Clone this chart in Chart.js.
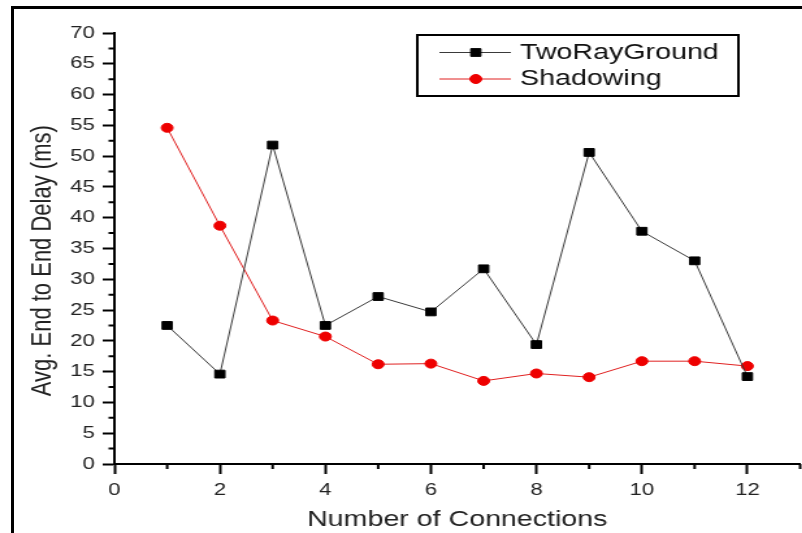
<!DOCTYPE html>
<html>
<head>
<meta charset="utf-8">
<script src="https://cdn.jsdelivr.net/npm/chart.js@4.4.1/dist/chart.umd.min.js"></script>
<style>
  body { margin: 0; background: #fff; }
  #wrap { position: relative; width: 802px; height: 533px; overflow: hidden; }
  /* the plot is drawn narrow and widened, like the exported figure */
  #stretch { position: absolute; left: 0; top: 0; width: 617px; height: 533px; transform: scaleX(1.3); transform-origin: 0 0; }
  #frame { position: absolute; left: 11px; top: 6px; right: -20px; bottom: -20px; border-left: 3px solid #000; border-top: 3px solid #000; }
</style>
</head>
<body>
<div id="wrap">
  <div id="stretch"><canvas id="chart" width="617" height="533"></canvas></div>
  <div id="frame"></div>
</div>
<script>
const connections = [1, 2, 3, 4, 5, 6, 7, 8, 9, 10, 11, 12];
const twoRayGround = [22.5, 14.6, 51.8, 22.5, 27.2, 24.7, 31.7, 19.4, 50.6, 37.8, 33.0, 14.2];
const shadowing = [54.6, 38.7, 23.3, 20.7, 16.2, 16.3, 13.5, 14.7, 14.1, 16.7, 16.7, 15.9];

const xMinorTicks = [1, 3, 5, 7, 9, 11, 13];
const yMinorTicks = [2.5, 7.5, 12.5, 17.5, 22.5, 27.5, 32.5, 37.5, 42.5, 47.5, 52.5, 57.5, 62.5, 67.5];

const toPoints = (ys) => connections.map((c, i) => ({ x: c, y: ys[i] }));

Chart.defaults.font.family = "'Liberation Sans', Arial, sans-serif";
Chart.defaults.color = '#222';

// short unlabelled ticks between the labelled ones
const minorTicks = {
  id: 'minorTicks',
  afterDraw(chart) {
    const { ctx, scales: { x, y } } = chart;
    ctx.save();
    ctx.strokeStyle = '#000';
    ctx.lineWidth = 2;
    ctx.beginPath();
    xMinorTicks.forEach((v) => {
      const px = x.getPixelForValue(v);
      ctx.moveTo(px, x.top);
      ctx.lineTo(px, x.top + 5);
    });
    yMinorTicks.forEach((v) => {
      const py = y.getPixelForValue(v);
      ctx.moveTo(y.right, py);
      ctx.lineTo(y.right - 4.5, py);
    });
    ctx.stroke();
    ctx.restore();
  },
};

// boxed legend sitting inside the plot
const boxLegend = {
  id: 'boxLegend',
  afterDraw(chart, args, opts) {
    const ctx = chart.ctx;
    ctx.save();
    ctx.lineWidth = 2;
    ctx.strokeStyle = '#000';
    ctx.strokeRect(opts.left, opts.top, opts.width, opts.height);
    ctx.font = "22px 'Liberation Sans', Arial, sans-serif";
    ctx.textBaseline = 'middle';
    chart.data.datasets.forEach((ds, i) => {
      const y = opts.top + opts.firstRow + i * opts.rowGap;
      ctx.strokeStyle = ds.borderColor;
      ctx.lineWidth = ds.borderWidth;
      ctx.beginPath();
      ctx.moveTo(opts.left + 17, y);
      ctx.lineTo(opts.left + 72, y);
      ctx.stroke();
      ctx.fillStyle = ds.pointBackgroundColor;
      ctx.strokeStyle = ds.pointBorderColor;
      ctx.lineWidth = ds.pointBorderWidth;
      Chart.helpers.drawPoint(ctx, { pointStyle: ds.pointStyle, radius: ds.pointRadius, rotation: 0, borderWidth: ds.pointBorderWidth }, opts.left + 45, y);
      ctx.fillStyle = '#111';
      ctx.fillText(ds.label, opts.left + 79, y);
    });
    ctx.restore();
  },
};

new Chart(document.getElementById('chart'), {
  type: 'line',
  data: {
    datasets: [
      {
        label: 'TwoRayGround',
        data: toPoints(twoRayGround),
        borderColor: '#3a3a3a',
        borderWidth: 1,
        pointStyle: 'rect',
        pointRadius: 5.5,
        pointBackgroundColor: '#000',
        pointBorderColor: '#000',
        pointBorderWidth: 1,
        tension: 0,
      },
      {
        label: 'Shadowing',
        data: toPoints(shadowing),
        borderColor: '#e02020',
        borderWidth: 1,
        pointStyle: 'circle',
        pointRadius: 4.5,
        pointBackgroundColor: '#ee0000',
        pointBorderColor: '#ee0000',
        pointBorderWidth: 1,
        tension: 0,
      },
    ],
  },
  options: {
    responsive: false,
    animation: false,
    devicePixelRatio: 1,
    layout: { autoPadding: false, padding: { left: 0, top: 33, right: 1.5, bottom: 0 } },
    plugins: {
      legend: { display: false },
      tooltip: { enabled: false },
      boxLegend: { left: 321, top: 35, width: 247, height: 61, firstRow: 17.5, rowGap: 26.5 },
    },
    scales: {
      x: {
        type: 'linear',
        min: 0,
        max: 13,
        afterFit: (scale) => {
          scale.height = 69;
          scale.paddingLeft = 0;
          scale.paddingRight = 0;
        },
        border: { display: true, color: '#000', width: 2 },
        grid: { display: true, drawOnChartArea: false, drawTicks: true, tickLength: 10, tickColor: '#000', tickWidth: 2 },
        ticks: { stepSize: 2, includeBounds: false, padding: 6, maxRotation: 0, font: { size: 17 } },
        title: { display: true, text: 'Number of Connections', font: { size: 22 }, padding: { top: 0, bottom: 0 } },
      },
      y: {
        min: 0,
        max: 70,
        afterFit: (scale) => { scale.width = 88; },
        border: { display: true, color: '#000', width: 2 },
        grid: { display: true, drawOnChartArea: false, drawTicks: true, tickLength: 9, tickColor: '#000', tickWidth: 2 },
        ticks: { stepSize: 5, padding: 6, font: { size: 17 } },
        // trailing spaces nudge the rotated title down along the axis
        title: { display: true, text: 'Avg. End to End Delay (ms)    ', font: { size: 22 }, padding: { top: 20, bottom: 0 } },
      },
    },
  },
  plugins: [minorTicks, boxLegend],
});
</script>
</body>
</html>
